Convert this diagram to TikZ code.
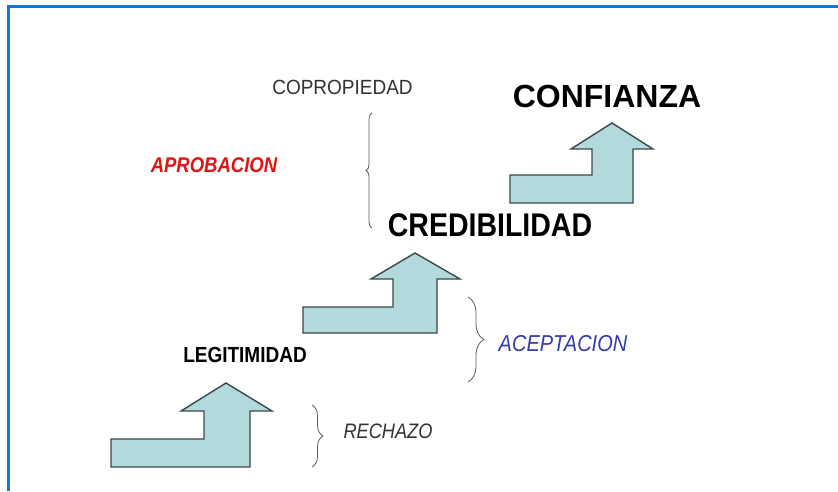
\documentclass[tikz,border=0pt]{standalone}
\usepackage{fontspec}
\setmainfont{Liberation Sans}
\usetikzlibrary{decorations.pathreplacing}
\definecolor{framebl}{RGB}{20,120,210}
\definecolor{arrfill}{RGB}{178,218,220}
\definecolor{arrline}{RGB}{60,72,72}
\definecolor{aprored}{RGB}{225,20,20}
\definecolor{acepblue}{RGB}{50,60,170}
\definecolor{txtgrey}{RGB}{50,50,50}
\newcommand{\fsz}[1]{\fontsize{#1}{#1}\selectfont}
\tikzset{
  stairarrow/.style={draw=arrline, fill=arrfill, line width=1.4pt, line join=miter},
  lbl/.style={inner sep=0pt, anchor=base},
  bracestyle/.style={draw=txtgrey!80, line width=0.8pt, decorate}
}
\begin{document}
\begin{tikzpicture}[x=1pt,y=1pt]
\useasboundingbox (0,0) rectangle (838,491);
\fill[white] (0,0) rectangle (838,491);
% frame
\draw[framebl, line width=2.5pt] (8.5,0) -- (8.5,484.5) -- (838,484.5);

% stair arrows
\draw[stairarrow] (111,52) -- (204,52) -- (204,80) -- (181,80) -- (226,108) -- (272,80) -- (250,80) -- (250,24) -- (111,24) -- cycle;
\draw[stairarrow] (303,184) -- (393,184) -- (393,212) -- (371,212) -- (415,238) -- (460,212) -- (437,212) -- (437,158) -- (303,158) -- cycle;
\draw[stairarrow] (510,316) -- (592,316) -- (592,342) -- (571,342) -- (612,368) -- (653,342) -- (633,342) -- (633,288) -- (510,288) -- cycle;

% labels
\node[lbl] (conf) at (607,383) {\fsz{32}\bfseries CONFIANZA};
\node[lbl] (cred) at (490,255) {\scalebox{1}[1.15]{\fsz{28.5}\bfseries CREDIBILIDAD}};
\node[lbl] (legi) at (245,129) {\scalebox{1}[1.15]{\fsz{19}\bfseries LEGITIMIDAD}};
\node[lbl, text=txtgrey] (copro) at (342.5,396) {\scalebox{1}[1.08]{\fsz{19}COPROPIEDAD}};
\node[lbl, text=aprored] (apro) at (214,319) {\scalebox{1}[1.15]{\fsz{18.5}\bfseries\itshape APROBACION}};
\node[lbl, text=acepblue] (acep) at (563,140) {\scalebox{1}[1.15]{\fsz{20}\itshape ACEPTACION}};
\node[lbl, text=txtgrey] (rech) at (388,53) {\scalebox{1}[1.15]{\fsz{18.2}\itshape RECHAZO}};

% braces
\coordinate (b1a) at (372,263);
\coordinate (b1b) at (372,378);
\draw[bracestyle, decoration={brace, amplitude=6pt}] (b1a) -- (b1b);
\coordinate (b2a) at (468,194);
\coordinate (b2b) at (468,109);
\draw[bracestyle, decoration={brace, amplitude=16pt}] (b2a) -- (b2b);
\coordinate (b3a) at (312,86);
\coordinate (b3b) at (312,24);
\draw[bracestyle, decoration={brace, amplitude=11pt}] (b3a) -- (b3b);
\end{tikzpicture}
\end{document}
